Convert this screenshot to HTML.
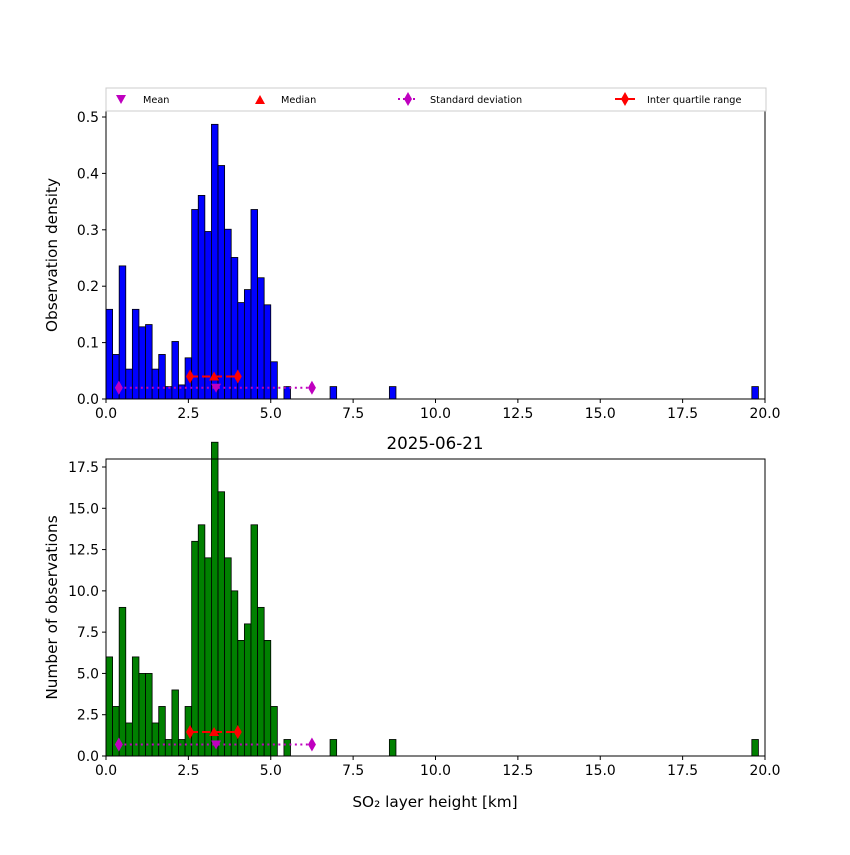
<!DOCTYPE html>
<html><head><meta charset="utf-8"><style>body{margin:0;background:#fff}svg{font-family:"DejaVu Sans","Liberation Sans",sans-serif}</style></head>
<body>
<svg id="c" width="850" height="850" xmlns="http://www.w3.org/2000/svg"></svg>
<script>
const binWidth = 0.2;
const binStarts = [0,0.2,0.4,0.6,0.8,1.0,1.2,1.4,1.6,1.8,2.0,2.2,2.4,2.6,2.8,3.0,3.2,3.4,3.6,3.8,4.0,4.2,4.4,4.6,4.8,5.0,5.4,6.8,8.6,19.6];
const counts =    [6,3,9,2,6,5,5,2,3,1,4,1,3,13,14,12,19,16,12,10,7,8,14,9,7,3,1,1,1,1];
const densities = [0.159,0.079,0.236,0.053,0.159,0.128,0.132,0.053,0.079,0.022,0.102,0.025,0.073,0.336,0.361,0.297,0.487,0.414,0.301,0.251,0.171,0.194,0.336,0.215,0.167,0.066,0.022,0.022,0.022,0.022];
const xTicks = [0,2.5,5,7.5,10,12.5,15,17.5,20];
const yTicksTop = [0,0.1,0.2,0.3,0.4,0.5];
const yTicksBot = [0,2.5,5,7.5,10,12.5,15,17.5];
const meanVal = 3.34, medianVal = 3.28;
const stdRange = [0.39, 6.25];
const iqrRange = [2.55, 4.0];
const stdLevelTop = 0.020, iqrLevelTop = 0.040;
const stdLevelBot = 0.7, iqrLevelBot = 1.45;

const svg = document.getElementById('c');
const NS = 'http://www.w3.org/2000/svg';
function mk(tag, attrs, parent){const e=document.createElementNS(NS,tag);for(const k in attrs)e.setAttribute(k,attrs[k]);(parent||svg).appendChild(e);return e;}
const X0=106,X1=765;
const xs = v => X0 + (v/20)*(X1-X0);

function panel(top, bottom, ymax, vals, ticks, fmt, color, ylabel, stdL, iqrL, name){
  const ys = v => bottom - (v/ymax)*(bottom-top);
  const g = mk('g',{});
  
  
  vals.forEach((v,i)=>{
    const r = mk('rect',{x:xs(binStarts[i]),y:ys(v),width:xs(binStarts[i]+binWidth)-xs(binStarts[i]),height:bottom-ys(v),fill:color,stroke:'#000','stroke-width':0.8},g);
    
    
  });
  const sy = ys(stdL), iy = ys(iqrL);
  mk('line',{x1:xs(stdRange[0]),x2:xs(stdRange[1]),y1:sy,y2:sy,stroke:'#bf00bf','stroke-width':2,'stroke-dasharray':'2,3.5'},g);
  stdRange.forEach(v=>mk('path',{d:`M${xs(v)},${sy-7}L${xs(v)+4},${sy}L${xs(v)},${sy+7}L${xs(v)-4},${sy}Z`,fill:'#bf00bf'},g));
  mk('line',{x1:xs(iqrRange[0]),x2:xs(iqrRange[1]),y1:iy,y2:iy,stroke:'red','stroke-width':2,'stroke-dasharray':'8,4'},g);
  iqrRange.forEach(v=>mk('path',{d:`M${xs(v)},${iy-7}L${xs(v)+4},${iy}L${xs(v)},${iy+7}L${xs(v)-4},${iy}Z`,fill:'red'},g));
  mk('path',{d:`M${xs(medianVal)-5},${iy+4}L${xs(medianVal)+5},${iy+4}L${xs(medianVal)},${iy-5}Z`,fill:'red'},g);
  mk('path',{d:`M${xs(meanVal)-5},${sy-4}L${xs(meanVal)+5},${sy-4}L${xs(meanVal)},${sy+5}Z`,fill:'#bf00bf'},g);
  mk('rect',{x:X0,y:top,width:X1-X0,height:bottom-top,fill:'none',stroke:'#000','stroke-width':1},g);
  xTicks.forEach(t=>{mk('line',{x1:xs(t),x2:xs(t),y1:bottom,y2:bottom+4,stroke:'#000'},g);
    const tx=mk('text',{x:xs(t),y:bottom+19,'text-anchor':'middle','font-size':13.9},g);tx.textContent=t.toFixed(1);});
  ticks.forEach(t=>{mk('line',{x1:X0-4,x2:X0,y1:ys(t),y2:ys(t),stroke:'#000'},g);
    const tx=mk('text',{x:X0-7,y:ys(t)+5,'text-anchor':'end','font-size':13.9},g);tx.textContent=fmt(t);});
  const yl=mk('text',{x:0,y:0,'text-anchor':'middle','font-size':15.3,transform:`translate(57,${(top+bottom)/2}) rotate(-90)`},g);yl.textContent=ylabel;
  
  
}
panel(111,399,0.5*(399-111)/(399-117),densities,yTicksTop,t=>t.toFixed(1),'#0000ff','Observation density',stdLevelTop,iqrLevelTop,'density-panel');
panel(459,756,17.5*(756-459)/(756-467),counts,yTicksBot,t=>t.toFixed(1),'#008000','Number of observations',stdLevelBot,iqrLevelBot,'count-panel');
</script>
<svg width="850" height="850" style="position:absolute;left:0;top:0" xmlns="http://www.w3.org/2000/svg">
<g font-size="9.7">
<rect x="106" y="88" width="660" height="23" fill="#fff" stroke="#ccc"/>
<path d="M116,95L126,95L121,104Z" fill="#bf00bf"/><text x="143" y="103">Mean</text>
<path d="M255,104L265,104L260,95Z" fill="red"/><text x="281" y="103">Median</text>
<line x1="398" x2="418" y1="99" y2="99" stroke="#bf00bf" stroke-width="2" stroke-dasharray="2,3"/><path d="M408,92L412,99L408,106L404,99Z" fill="#bf00bf"/><text x="430" y="103">Standard deviation</text>
<line x1="615" x2="635" y1="99" y2="99" stroke="red" stroke-width="2"/><path d="M625,92L629,99L625,106L621,99Z" fill="red"/><text x="647" y="103">Inter quartile range</text>
</g>
<text x="435" y="449" text-anchor="middle" font-size="16.7">2025-06-21</text>
<text x="435" y="807" text-anchor="middle" font-size="15.3">SO₂ layer height [km]</text>
</svg>
</body></html>
